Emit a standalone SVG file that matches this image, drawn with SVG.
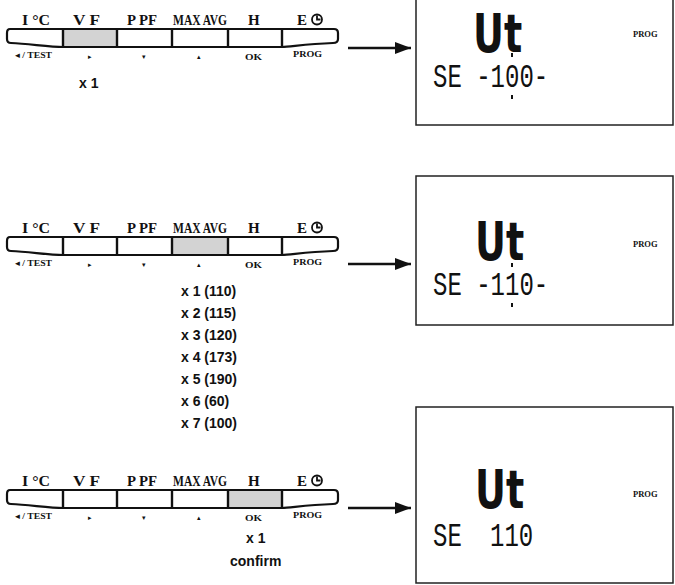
<svg xmlns="http://www.w3.org/2000/svg" xmlns:xlink="http://www.w3.org/1999/xlink" width="675" height="585" viewBox="0 0 675 585">
<style>
.bar{fill:none;stroke:#111;stroke-width:2.2;stroke-linejoin:round}
.div{stroke:#111;stroke-width:2.4}
.hl{fill:#d3d3d3}
.lbl{font-family:"Liberation Serif",serif;font-weight:bold;font-size:15px;fill:#111}
.sub{font-family:"Liberation Serif","DejaVu Sans",serif;font-weight:bold;font-size:9px;fill:#111}
.tri{font-family:"DejaVu Sans",sans-serif;font-size:7px;fill:#111}
.cnt{font-family:"Liberation Sans",Arial,sans-serif;font-weight:bold;font-size:14px;fill:#111}
.box{fill:none;stroke:#222;stroke-width:1.5}
.big{font-family:"DejaVu Sans",sans-serif;font-weight:bold;font-size:53px;fill:#111}
.seg{font-family:"Liberation Mono",monospace;font-size:24px;fill:#111}
.prog{font-family:"Liberation Serif",serif;font-weight:bold;font-size:8.5px;fill:#111}
.blink{stroke:#111;stroke-width:2}
.conn{stroke:#111;stroke-width:2.5;fill:none}
.clk{fill:none;stroke:#111;stroke-width:1.8}
</style>
<defs>
<marker id="ah" viewBox="0 0 16 12" refX="16" refY="6" markerWidth="16" markerHeight="12" markerUnits="userSpaceOnUse" orient="auto">
<path d="M0,0 L16,6 L0,12 Z" fill="#111"/>
</marker>
<g id="keypad">
<path class="bar" d="M10 29 H334 Q338 29 338 33 V39 Q338 43 333 43 C305 44 290 47 282 47 H63 C50 47 30 44 11 43 Q7 43 7 39 V33 Q7 29 10 29 Z"/>
<line class="div" x1="63" y1="29" x2="63" y2="47"/>
<line class="div" x1="117" y1="29" x2="117" y2="47"/>
<line class="div" x1="172" y1="29" x2="172" y2="47"/>
<line class="div" x1="228" y1="29" x2="228" y2="47"/>
<line class="div" x1="282" y1="29" x2="282" y2="47"/>
<text class="lbl" x="22" y="25" textLength="28" lengthAdjust="spacingAndGlyphs">I °C</text>
<text class="lbl" x="73" y="25" textLength="27" lengthAdjust="spacingAndGlyphs">V F</text>
<text class="lbl" x="127" y="25" textLength="30" lengthAdjust="spacingAndGlyphs">P PF</text>
<text class="lbl" x="173" y="25" textLength="54" lengthAdjust="spacingAndGlyphs">MAX AVG</text>
<text class="lbl" x="248" y="25">H</text>
<text class="lbl" x="297" y="25">E</text>
<circle class="clk" cx="317" cy="19.5" r="5"/>
<path class="clk" d="M317 15.5 V19.5 H320.5"/>
<text class="sub" x="15" y="58" textLength="37" lengthAdjust="spacingAndGlyphs">◂ / TEST</text>
<text class="tri" x="88" y="59">▸</text>
<text class="tri" x="142" y="59">▾</text>
<text class="tri" x="197" y="59">▴</text>
<text class="sub" x="245" y="60" textLength="17" lengthAdjust="spacingAndGlyphs">OK</text>
<text class="sub" x="293" y="57" textLength="29" lengthAdjust="spacingAndGlyphs">PROG</text>
</g>
</defs>

<g id="keypad1">
<rect class="hl" x="63" y="29" width="54" height="18"/>
<use xlink:href="#keypad"/>
<text class="cnt" x="79" y="88">x 1</text>
</g>

<g id="keypad2" transform="translate(0,208)">
<rect class="hl" x="172" y="29" width="56" height="18"/>
<use xlink:href="#keypad"/>
</g>

<g id="steps">
<text class="cnt" x="181" y="296">x 1 (110)</text>
<text class="cnt" x="181" y="318">x 2 (115)</text>
<text class="cnt" x="181" y="340">x 3 (120)</text>
<text class="cnt" x="181" y="362">x 4 (173)</text>
<text class="cnt" x="181" y="384">x 5 (190)</text>
<text class="cnt" x="181" y="406">x 6 (60)</text>
<text class="cnt" x="181" y="428">x 7 (100)</text>
</g>

<g id="keypad3" transform="translate(0,461)">
<rect class="hl" x="228" y="29" width="54" height="18"/>
<use xlink:href="#keypad"/>
</g>
<g id="confirm">
<text class="cnt" x="246" y="543">x 1</text>
<text class="cnt" x="230" y="566">confirm</text>
</g>

<g id="display1">
<rect class="box" x="416" y="-25" width="257" height="150"/>
<text class="big" transform="translate(473,52) scale(0.72,1)">Ut</text>
<text class="prog" x="633" y="37">PROG</text>
<text class="seg" transform="translate(433,87) scale(1,1.35)">SE -100-</text>
<line class="blink" x1="512" y1="53" x2="512" y2="57"/>
<line class="blink" x1="512" y1="95" x2="512" y2="99"/>
</g>

<g id="display2">
<rect class="box" x="416" y="176" width="257" height="149"/>
<text class="big" transform="translate(475,260) scale(0.72,1)">Ut</text>
<text class="prog" x="633" y="247">PROG</text>
<text class="seg" transform="translate(433,295) scale(1,1.35)">SE -110-</text>
<line class="blink" x1="512" y1="263" x2="512" y2="267"/>
<line class="blink" x1="512" y1="303" x2="512" y2="307"/>
</g>

<g id="display3">
<rect class="box" x="416" y="407" width="257" height="176"/>
<text class="big" transform="translate(475,508) scale(0.72,1)">Ut</text>
<text class="prog" x="633" y="497">PROG</text>
<text class="seg" transform="translate(433,546) scale(1,1.35)">SE <tspan x="57">110</tspan></text>
</g>

<g id="connectors">
<line class="conn" x1="348" y1="48" x2="411" y2="48" marker-end="url(#ah)"/>
<line class="conn" x1="348" y1="264" x2="411" y2="264" marker-end="url(#ah)"/>
<line class="conn" x1="348" y1="508" x2="411" y2="508" marker-end="url(#ah)"/>
</g>
</svg>
